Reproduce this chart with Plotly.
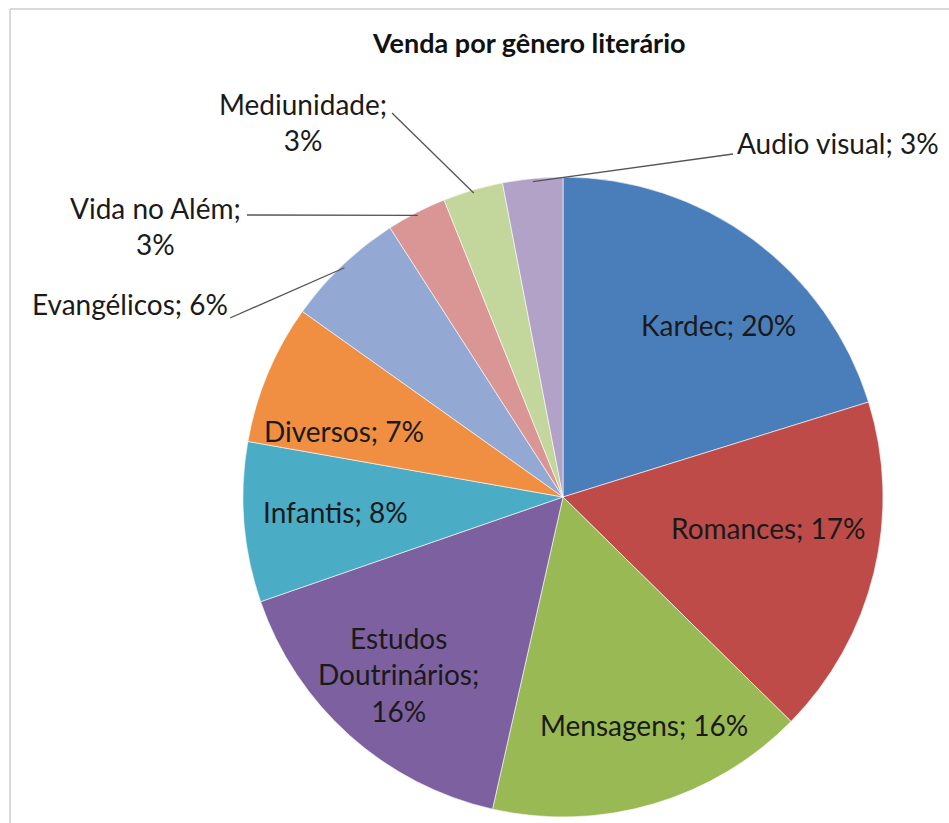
import math
import plotly.graph_objects as go

# ---- data ----
categories = ["Kardec", "Romances", "Mensagens", "Estudos Doutrinários", "Infantis",
              "Diversos", "Evangélicos", "Vida no Além", "Mediunidade", "Audio visual"]
values = [20, 17, 16, 16, 8, 7, 6, 3, 3, 3]
label_texts = ["Kardec; 20%", "Romances; 17%", "Mensagens; 16%",
               "Estudos<br>Doutrinários;<br>16%", "Infantis; 8%", "Diversos; 7%",
               "Evangélicos; 6%", "Vida no Além;<br>3%", "Mediunidade;<br>3%",
               "Audio visual; 3%"]
colors = ["#4A7EBB", "#BE4B48", "#98B954", "#7D60A0", "#4BACC6",
          "#F08F42", "#93A9D4", "#D99694", "#C3D69B", "#B3A2C7"]

W, H = 949, 823
CX, CY, R = 563, 497, 320

fig = go.Figure(go.Pie(
    labels=categories, values=values, sort=False, direction="clockwise",
    rotation=0, textinfo="none", hoverinfo="label+percent",
    marker=dict(colors=colors, line=dict(color="rgba(255,255,255,0.6)", width=1)),
    domain=dict(x=[(CX - R) / W, (CX + R) / W], y=[1 - (CY + R) / H, 1 - (CY - R) / H]),
    showlegend=False,
))

def px(x):
    return x / W

def py(y):
    return 1 - y / H

FONT = "Lato, 'Open Sans', sans-serif"
TXT = "#1a1a1a"
FS = 28

# label placement (pixel positions of text)
label_pos = [
    (718, 325, "center", "middle"),
    (768, 528, "center", "middle"),
    (644, 725, "center", "middle"),
    (398, 674, "center", "middle"),
    (335, 512, "center", "middle"),
    (344, 431, "center", "middle"),
    (230, 304, "right", "middle"),
    (155, 226, "center", "middle"),
    (303, 122, "center", "middle"),
    (735, 143, "left", "middle"),
]
# leader line start points (near labels) for outside labels
leader_from = {6: (230, 318), 7: (247, 215), 8: (392, 113), 9: (733, 154)}

annotations = []
for i, (x, y, xa, ya) in enumerate(label_pos):
    annotations.append(dict(
        x=px(x), y=py(y), xref="paper", yref="paper", text=label_texts[i],
        showarrow=False, xanchor=xa, yanchor=ya, align="center",
        font=dict(family=FONT, size=FS, color=TXT)))

annotations.append(dict(
    x=px(529), y=py(42), xref="paper", yref="paper",
    text="<b>Venda por gênero literário</b>", showarrow=False,
    xanchor="center", yanchor="middle",
    font=dict(family=FONT, size=27, color="#111111")))

shapes = []
total = sum(values)
cum = 0
for i, v in enumerate(values):
    mid = (cum + v / 2) / total * 2 * math.pi
    cum += v
    if i in leader_from:
        ex = CX + R * 0.99 * math.sin(mid)
        ey = CY - R * 0.99 * math.cos(mid)
        sx, sy = leader_from[i]
        shapes.append(dict(type="line", xref="paper", yref="paper",
                           x0=px(sx), y0=py(sy), x1=px(ex), y1=py(ey),
                           line=dict(color="#555555", width=1.3)))

# outer frame lines
shapes.append(dict(type="line", xref="paper", yref="paper",
                   x0=px(10), y0=py(9), x1=1.0, y1=py(9),
                   line=dict(color="#d9d9d9", width=2)))
shapes.append(dict(type="line", xref="paper", yref="paper",
                   x0=px(10), y0=py(9), x1=px(10), y1=0.0,
                   line=dict(color="#d9d9d9", width=2)))

fig.update_layout(
    width=W, height=H, margin=dict(l=0, r=0, t=0, b=0),
    paper_bgcolor="white", plot_bgcolor="white",
    annotations=annotations, shapes=shapes,
)

fig.write_html("out.html", config={"displayModeBar": False},
               post_script="document.body.style.margin='0';document.body.style.overflow='hidden';")
